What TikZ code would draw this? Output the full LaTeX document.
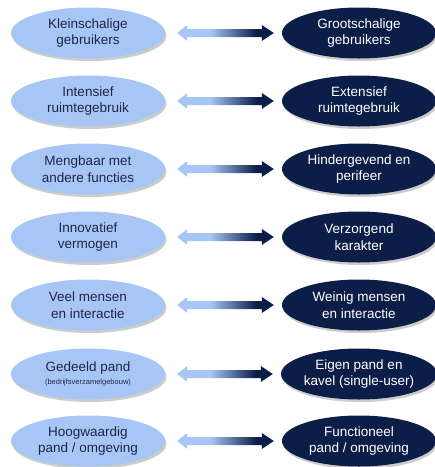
\documentclass[tikz,border=0pt]{standalone}
\usepackage{fontspec}
\setmainfont{Liberation Sans}
\usetikzlibrary{calc,shadows,shapes.geometric}
\definecolor{lichtblauw}{RGB}{168,198,245}
\definecolor{donkerblauw}{RGB}{12,30,72}
\definecolor{tekstdonker}{RGB}{30,40,70}
\pgfdeclarehorizontalshading{pijlschaduw}{100bp}{color(0bp)=(lichtblauw); color(25bp)=(lichtblauw); color(42bp)=(lichtblauw); color(66bp)=(donkerblauw); color(100bp)=(donkerblauw)}
\tikzset{
  klein/.style={ellipse, fill=lichtblauw, text=tekstdonker, minimum width=154pt, minimum height=51pt, inner sep=0pt, align=center, font=\fontsize{13.5}{16.5}\selectfont, drop shadow={shadow xshift=1.5pt, shadow yshift=-2.5pt, opacity=0.2, fill=black}},
  groot/.style={klein, fill=donkerblauw, text=white},
  pijl/.style={shading=pijlschaduw}
}

\begin{document}
\begin{tikzpicture}[x=1pt, y=-1pt]
			%%%%% START %%%%%
			\useasboundingbox (0, 0) rectangle (435, 467);
			
			\node[klein] (l1) at (88, 33) {Kleinschalige\\gebruikers};
			\node[groot] (r1) at (359, 33) {Grootschalige\\gebruikers};
			
			\node[klein] (l2) at (88, 101) {Intensief\\ruimtegebruik};
			\node[groot] (r2) at (359, 101) {Extensief\\ruimtegebruik};
			
			\node[klein] (l3) at (88, 169) {Mengbaar met\\andere functies};
			\node[groot] (r3) at (359, 169) {Hindergevend en\\perifeer};
			
			\node[klein] (l4) at (88, 237) {Innovatief\\vermogen};
			\node[groot] (r4) at (359, 237) {Verzorgend\\karakter};
			
			\node[klein] (l5) at (88, 305) {Veel mensen\\en interactie};
			\node[groot] (r5) at (359, 305) {Weinig mensen\\en interactie};
			
			\node[klein] (l6) at (88, 374) {Gedeeld pand\\[-3pt]{\fontsize{7.5}{8.5}\selectfont (bedrijfsverzamelgebouw)}};
			\node[groot] (r6) at (359, 374) {Eigen pand en\\kavel (single-user)};
			
			\node[klein] (l7) at (88, 441) {Hoogwaardig\\pand / omgeving};
			\node[groot] (r7) at (359, 441) {Functioneel\\pand / omgeving};
			
			% pijlen tussen de kolommen
			\foreach \i in {1,...,7} {
				\coordinate (a\i) at ($(l\i.east)+(12, 0)$);
				\coordinate (b\i) at ($(r\i.west)+(-8, 0)$);
				\shade[pijl] (a\i) -- ++(10, -8) -- ++(0, 4) -- ($(b\i)+(-12, -4)$) -- ++(0, -4)
					-- (b\i) -- ++(-12, 8) -- ++(0, -4) -- ($(a\i)+(10, 4)$) -- ++(0, 4) -- cycle;
			}
			
			%%%%% END %%%%%
		\end{tikzpicture}
\end{document}
